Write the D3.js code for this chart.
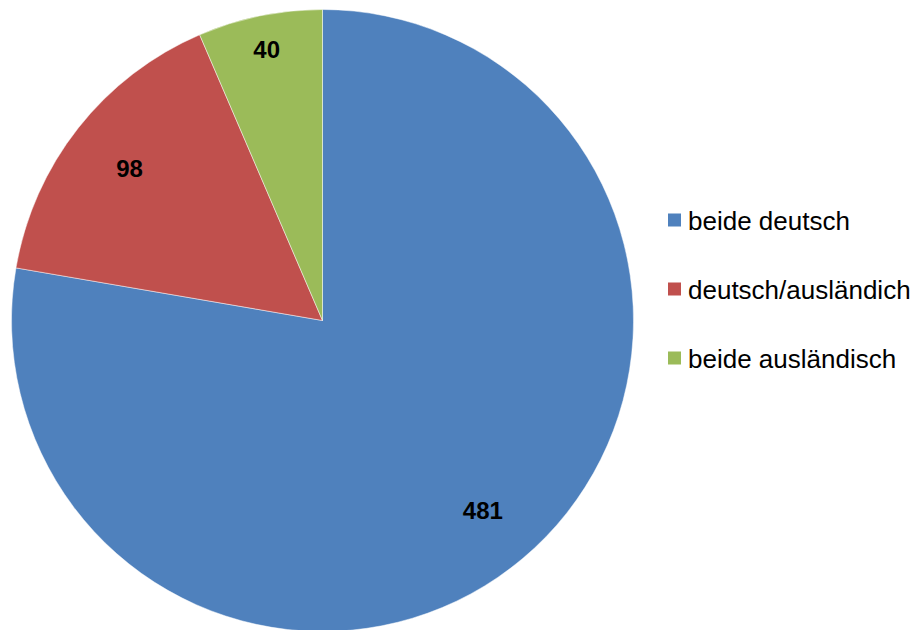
<!doctype html>
<html lang="de">
<head>
    <meta charset="UTF-8">
    <title>Pie</title>
    <script src="https://cdnjs.cloudflare.com/ajax/libs/d3/7.8.5/d3.min.js"></script>
    <style>
        body { margin: 0; background: #fff; }
        text { font-family: Arial, "Liberation Sans", sans-serif; }
    </style>
</head>
<body>
<svg id="chart" width="919" height="630"></svg>
<script>
    var categories = ['beide deutsch', 'deutsch/ausländich', 'beide ausländisch'];
    var values = [481, 98, 40];
    var colors = ['#4F81BD', '#C0504D', '#9BBB59'];
    // how far out each number sits, as part of the radius
    var labelPos = [0.8, 0.79, 0.89];

    var svg = d3.select('#chart');
    var cx = 322.5, cy = 320.5, r = 311;

    var data = categories.map(function (c, i) {
        return {name: c, value: values[i], color: colors[i], lp: labelPos[i]};
    });

    var pie = d3.pie().sort(null).value(function (d) { return d.value; });
    var arc = d3.arc().innerRadius(0).outerRadius(r);

    var g = svg.append('g').attr('transform', 'translate(' + cx + ',' + cy + ')');

    var arcs = pie(data);

    g.selectAll('path')
        .data(arcs)
        .enter()
        .append('path')
        .attr('d', arc)
        .attr('fill', function (d) { return d.data.color; })
        .attr('stroke', '#fff')
        .attr('stroke-width', 0.8)
        .attr('stroke-opacity', 0.6);

    g.selectAll('text.lbl')
        .data(arcs)
        .enter()
        .append('text')
        .attr('class', 'lbl')
        .attr('transform', function (d) {
            var la = d3.arc().innerRadius(r * d.data.lp).outerRadius(r * d.data.lp);
            return 'translate(' + la.centroid(d) + ')';
        })
        .attr('text-anchor', 'middle')
        .attr('dy', '0.36em')
        .attr('font-size', '24px')
        .attr('font-weight', 'bold')
        .attr('fill', '#000')
        .text(function (d) { return d.data.value; });

    var legend = svg.append('g').attr('transform', 'translate(668,0)');
    var ly = d3.scaleBand().domain(categories).range([186, 393]);

    var item = legend.selectAll('g')
        .data(data)
        .enter()
        .append('g')
        .attr('transform', function (d) { return 'translate(0,' + (ly(d.name) + ly.bandwidth() / 2) + ')'; });

    item.append('rect')
        .attr('x', 0)
        .attr('y', -7)
        .attr('width', 13)
        .attr('height', 13)
        .attr('fill', function (d) { return d.color; });

    item.append('text')
        .attr('x', 20)
        .attr('y', 9)
        .attr('font-size', '26px')
        .attr('fill', '#000')
        .text(function (d) { return d.name; });
</script>
</body>
</html>
